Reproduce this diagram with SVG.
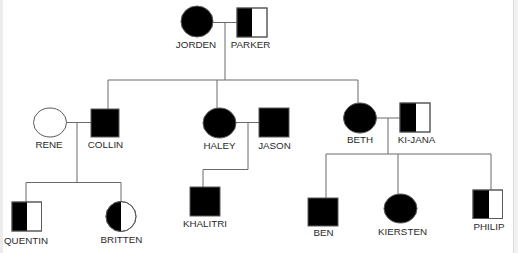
<svg xmlns="http://www.w3.org/2000/svg" width="518" height="253" viewBox="0 0 518 253">
<style>
.bg{fill:#ffffff}
.ln{stroke:#6a6a6a;stroke-width:1;fill:none}
.sh{stroke:#5a5a5a;stroke-width:1}
.blk{fill:#000000}
.wht{fill:#ffffff}
.hb{fill:#000000;stroke:none}
text{font-family:"Liberation Sans",Arial,sans-serif;font-size:9.8px;fill:#2a2a2a;text-anchor:middle}
</style>
<rect class="bg" x="0" y="0" width="518" height="253"/>
<rect x="0" y="0" width="3" height="253" fill="#ececec"/>
<rect x="513" y="0" width="5" height="253" fill="#f1f1f1"/>
<line x1="513.5" y1="0" x2="513.5" y2="253" stroke="#dadada" stroke-width="1"/>
<g id="connectors">
<path class="ln" d="M213,22.5H237M225,22.5V80M108,80H358M108,80V109M217,80V108M358,80V103"/>
<path class="ln" d="M66.5,122.5H91M77,122.5V182.5M26,182.5H121M26,182.5V202M121,182.5V201.5"/>
<path class="ln" d="M236,122.5H259M248,122.5V169.5M203,169.5H248M203,169.5V187"/>
<path class="ln" d="M376.5,118H400M388,118V154M326,154H491M326,154V198M398,154V194M491,154V190"/>
</g>
<g id="jorden"><ellipse class="sh blk" cx="197" cy="21.5" rx="16" ry="15.5"/><text x="196" y="48">JORDEN</text></g>
<g id="parker"><rect class="sh wht" x="237" y="8" width="30" height="29"/><rect class="hb" x="237" y="8" width="15" height="29"/><rect class="sh" fill="none" x="237" y="8" width="30" height="29"/><text x="250.5" y="48">PARKER</text></g>
<g id="rene"><ellipse class="sh wht" cx="50" cy="122.5" rx="16.5" ry="14.5"/><text x="49" y="148">RENE</text></g>
<g id="collin"><rect class="sh blk" x="91" y="109" width="28" height="28"/><text x="105.5" y="148">COLLIN</text></g>
<g id="haley"><ellipse class="sh blk" cx="219.5" cy="123" rx="16.5" ry="15"/><text x="219.5" y="149">HALEY</text></g>
<g id="jason"><rect class="sh blk" x="259" y="108" width="30" height="29"/><text x="274.5" y="149">JASON</text></g>
<g id="beth"><ellipse class="sh blk" cx="360" cy="118" rx="16.5" ry="15"/><text x="360" y="143">BETH</text></g>
<g id="kijana"><rect class="sh wht" x="400" y="103" width="30" height="29"/><rect class="hb" x="400" y="103" width="16" height="29"/><rect class="sh" fill="none" x="400" y="103" width="30" height="29"/><text x="416.5" y="143">KI-JANA</text></g>
<g id="quentin"><rect class="sh wht" x="12" y="202" width="29.5" height="29"/><rect class="hb" x="12" y="202" width="15" height="29"/><rect class="sh" fill="none" x="12" y="202" width="29.5" height="29"/><text x="26" y="244">QUENTIN</text></g>
<g id="britten"><circle class="sh wht" cx="121" cy="216.5" r="15"/><path class="hb" d="M121,201.5A15,15 0 0 0 121,231.5Z"/><circle class="sh" fill="none" cx="121" cy="216.5" r="15"/><text x="121.5" y="243">BRITTEN</text></g>
<g id="khalitri"><rect class="sh blk" x="190" y="187" width="30" height="29"/><text x="205" y="227">KHALITRI</text></g>
<g id="ben"><rect class="sh blk" x="308" y="198" width="30" height="28"/><text x="323.5" y="236">BEN</text></g>
<g id="kiersten"><ellipse class="sh blk" cx="400.5" cy="208.5" rx="16.5" ry="14.5"/><text x="402.5" y="235">KIERSTEN</text></g>
<g id="philip"><rect class="sh wht" x="473" y="190" width="29.5" height="28.5"/><rect class="hb" x="473" y="190" width="16" height="28.5"/><rect class="sh" fill="none" x="473" y="190" width="29.5" height="28.5"/><text x="489" y="230">PHILIP</text></g>
</svg>
